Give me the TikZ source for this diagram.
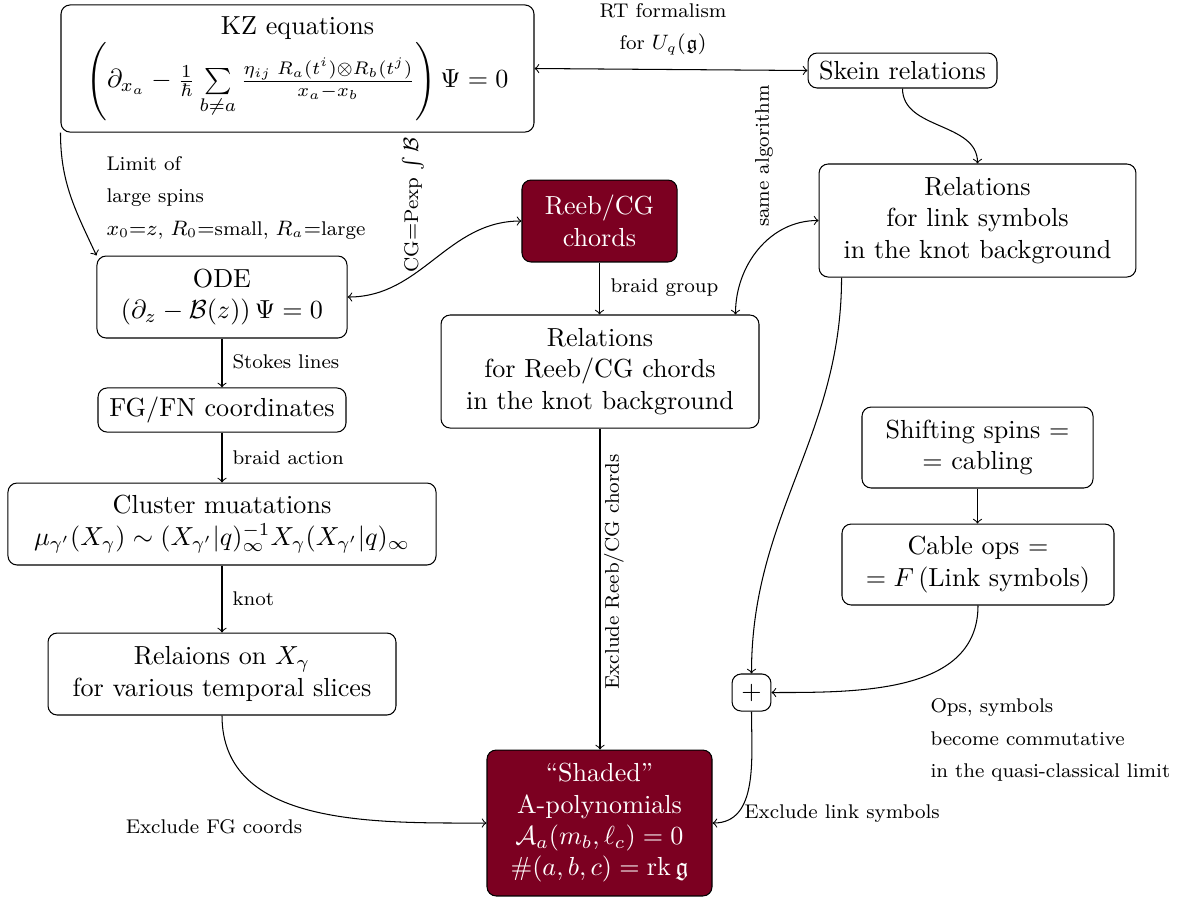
\documentclass[tikz,border=0pt]{standalone}
\usepackage{amsmath,amssymb}
\usetikzlibrary{calc}
\definecolor{darkred}{RGB}{124,0,33}
\tikzset{
  box/.style={draw, rounded corners=3.5pt, align=center, inner sep=0pt, font=\normalsize},
  dark/.style={box, fill=darkred, text=white},
  lbl/.style={font=\fontsize{7.6pt}{9.5pt}\selectfont, inner sep=0pt},
  arr/.style={->},
  darr/.style={<->},
}
\begin{document}
\begin{tikzpicture}[x=0.3831pt, y=0.3831pt]
\useasboundingbox (0,0) rectangle (1186,-901);

% nodes
\node[box, minimum width=181.2pt, minimum height=48.7pt] (KZ) at (297.5,-68.5)
  {KZ equations\\
   $\left(\partial_{x_a}-\frac{1}{\hbar}\sum\limits_{b\neq a}\frac{\eta_{ij}\;R_a(t^i)\otimes R_b(t^j)}{x_a-x_b}\right)\Psi=0$};
\node[box, minimum width=72.4pt, minimum height=13.4pt] (Skein) at (902.5,-70.5) {Skein relations};
\node[dark, minimum width=59.4pt, minimum height=31.4pt] (Reeb) at (599.5,-221) {Reeb/CG\\chords};
\node[box, minimum width=121.4pt, minimum height=43.3pt] (LinkRel) at (977.5,-220.5)
  {Relations\\for link symbols\\in the knot background};
\node[box, minimum width=95.8pt, minimum height=31.4pt] (ODE) at (222,-297)
  {ODE\\$(\partial_z-\mathcal{B}(z))\,\Psi=0$};
\node[box, minimum width=121.8pt, minimum height=43.3pt] (ReebRel) at (600,-371.5)
  {Relations\\for Reeb/CG chords\\in the knot background};
\node[box, minimum width=95pt, minimum height=16.9pt] (FG) at (222,-410) {FG/FN coordinates};
\node[box, minimum width=164pt, minimum height=31.4pt] (Cluster) at (222,-524)
  {Cluster muatations\\$\mu_{\gamma'}(X_\gamma)\sim(X_{\gamma'}|q)_\infty^{-1}X_\gamma(X_{\gamma'}|q)_\infty$};
\node[box, minimum width=133.3pt, minimum height=31.4pt] (Relaions) at (222,-674)
  {Relaions on $X_\gamma$\\for various temporal slices};
\node[box, minimum width=88.5pt, minimum height=31pt] (Shifting) at (977.5,-447.5)
  {Shifting spins $=$\\$=$ cabling};
\node[box, minimum width=104.2pt, minimum height=31pt] (Cable) at (978,-564.5)
  {Cable ops $=$\\$=F\,$(Link symbols)};
\node[box, minimum width=14.9pt, minimum height=14.2pt] (Plus) at (751.5,-692.5) {$+$};
\node[dark, minimum width=86.2pt, minimum height=55.9pt] (Shaded) at (599.5,-823)
  {``Shaded''\\A-polynomials\\$\mathcal{A}_a(m_b,\ell_c)=0$\\$\#(a,b,c)=\mathrm{rk}\,\mathfrak{g}$};

% labels
\node[lbl, align=center] (lRT) at (663,-29) {RT formalism\\[2.8pt] for $U_q(\mathfrak{g})$};
\node[lbl, align=left, anchor=west] (lLim) at (106,-198)
  {Limit of\\[2.8pt] large spins\\[2.8pt] $x_0{=}z$, $R_0{=}$small, $R_a{=}$large};
\node[lbl, rotate=90] (lCG) at (413,-205) {CG$=$Pexp $\int\mathcal{B}$};
\node[lbl, rotate=90] (lSame) at (764,-156) {same algorithm};
\node[lbl, anchor=west] (lBraidG) at (610,-288) {braid group};
\node[lbl, anchor=west] (lStokes) at (232,-362) {Stokes lines};
\node[lbl, anchor=west] (lBraidA) at (232,-458) {braid action};
\node[lbl, anchor=west] (lKnot) at (232,-599) {knot};
\node[lbl, rotate=90] (lExReeb) at (614,-572) {Exclude Reeb/CG chords};
\node[lbl] (lExFG) at (214,-827) {Exclude FG coords};
\node[lbl] (lExLink) at (842,-814) {Exclude link symbols};
\node[lbl, align=left, anchor=west] (lOps) at (930,-740)
  {Ops, symbols\\[2.8pt] become commutative\\[2.8pt] in the quasi-classical limit};

% connectors
\draw[darr] (KZ.east) -- (Skein.west);
\draw[arr] (KZ.south west) to[out=-90,in=115] (ODE.north west);
\draw[darr] (ODE.east) to[out=0,in=180] (Reeb.west);
\draw[arr] (Reeb.south) -- (Reeb.south |- ReebRel.north);
\draw[arr] (Skein.south) to[out=-90,in=90] (LinkRel.north);
\draw[darr] ($(ReebRel.north east)+(-24,0)$) to[out=90,in=180] (LinkRel.west);
\draw[arr] ($(LinkRel.south west)+(23,0)$) to[out=-90,in=90] (Plus.north);
\draw[arr] (Shifting.south) -- (Shifting.south |- Cable.north);
\draw[arr] (Cable.south) to[out=-90,in=0] (Plus.east);
\draw[arr] (Plus.south) to[out=-90,in=0] (Shaded.east);
\draw[arr] (ReebRel.south) -- (ReebRel.south |- Shaded.north);
\draw[arr] (Relaions.south) to[out=-90,in=180] (Shaded.west);
\draw[arr] (ODE.south) -- (FG.north);
\draw[arr] (FG.south) -- (Cluster.north);
\draw[arr] (Cluster.south) -- (Relaions.north);
\end{tikzpicture}
\end{document}
